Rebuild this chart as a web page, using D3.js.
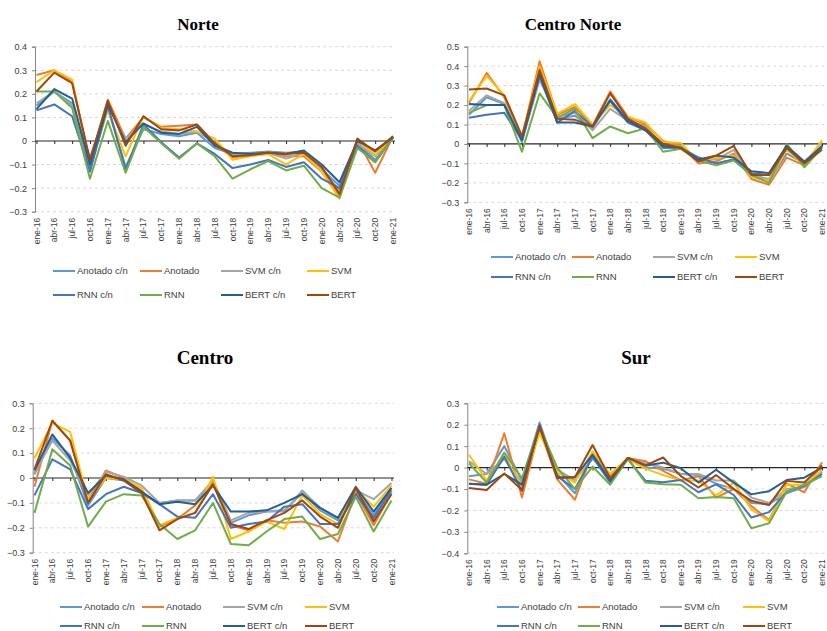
<!DOCTYPE html>
<html><head><meta charset="utf-8">
<script src="https://cdn.jsdelivr.net/npm/d3@7"></script>
<style>
html,body{margin:0;padding:0;background:#fff;}
svg{display:block;}
</style>
</head><body>
<svg id="chart" width="827" height="631"></svg>
<script>
// ---------- DATA ----------
const categories = ["ene-16","abr-16","jul-16","oct-16","ene-17","abr-17","jul-17","oct-17","ene-18","abr-18","jul-18","oct-18","ene-19","abr-19","jul-19","oct-19","ene-20","abr-20","jul-20","oct-20","ene-21"];
const seriesNames = ["Anotado c/n","Anotado","SVM c/n","SVM","RNN c/n","RNN","BERT c/n","BERT"];
const panelTitles = ["Norte","Centro Norte","Centro","Sur"];
const norteTicks = [0.4,0.3,0.2,0.1,0,-0.1,-0.2,-0.3];
const centroNorteTicks = [0.5,0.4,0.3,0.2,0.1,0,-0.1,-0.2,-0.3];
const centroTicks = [0.3,0.2,0.1,0,-0.1,-0.2,-0.3];
const surTicks = [0.3,0.2,0.1,0,-0.1,-0.2,-0.3,-0.4];

// rows follow seriesNames order
const norteValues = [
  [0.15,0.21,0.16,-0.12,0.14,-0.11,0.05,0.03,0.02,0.035,-0.03,-0.055,-0.05,-0.045,-0.05,-0.045,-0.12,-0.19,-0.01,-0.08,0.015],
  [0.28,0.30,0.25,-0.09,0.175,0.01,0.10,0.06,0.065,0.07,-0.01,-0.07,-0.06,-0.05,-0.065,-0.065,-0.13,-0.235,0.005,-0.135,0.02],
  [0.16,0.21,0.15,-0.07,0.15,0.01,0.07,0.04,0.03,0.04,-0.005,-0.06,-0.06,-0.05,-0.075,-0.05,-0.12,-0.21,-0.01,-0.065,0.015],
  [0.25,0.30,0.26,-0.10,0.13,-0.065,0.105,0.055,0.05,0.04,0.01,-0.08,-0.065,-0.055,-0.10,-0.055,-0.13,-0.245,0.005,-0.06,0.02],
  [0.13,0.155,0.105,-0.13,0.15,-0.12,0.07,-0.005,-0.07,-0.01,-0.055,-0.115,-0.10,-0.08,-0.11,-0.09,-0.16,-0.20,-0.02,-0.09,0.015],
  [0.21,0.21,0.14,-0.16,0.085,-0.135,0.06,-0.01,-0.075,-0.01,-0.065,-0.16,-0.12,-0.085,-0.125,-0.105,-0.20,-0.24,-0.03,-0.09,0.015],
  [0.135,0.22,0.18,-0.10,0.155,-0.005,0.075,0.035,0.03,0.06,-0.02,-0.05,-0.055,-0.05,-0.055,-0.04,-0.10,-0.175,0.0,-0.04,0.015],
  [0.21,0.29,0.245,-0.08,0.17,-0.02,0.105,0.05,0.045,0.07,-0.01,-0.065,-0.06,-0.05,-0.055,-0.05,-0.11,-0.225,0.01,-0.045,0.02]
];
const centroNorteValues = [
  [0.15,0.24,0.205,0.01,0.34,0.13,0.145,0.08,0.23,0.12,0.085,-0.02,-0.02,-0.07,-0.10,-0.08,-0.16,-0.19,-0.05,-0.10,-0.01],
  [0.21,0.365,0.24,0.03,0.425,0.15,0.19,0.095,0.27,0.14,0.10,0.015,-0.01,-0.10,-0.09,-0.05,-0.18,-0.21,-0.07,-0.11,-0.02],
  [0.17,0.25,0.21,0.02,0.33,0.14,0.16,0.07,0.18,0.12,0.09,-0.01,-0.01,-0.08,-0.08,-0.03,-0.16,-0.18,-0.03,-0.10,0.01],
  [0.22,0.35,0.25,0.035,0.40,0.155,0.205,0.10,0.20,0.14,0.11,0.01,0.005,-0.09,-0.07,-0.06,-0.17,-0.19,-0.03,-0.11,0.02],
  [0.135,0.15,0.16,0.02,0.35,0.11,0.17,0.09,0.22,0.11,0.07,-0.02,-0.02,-0.07,-0.10,-0.08,-0.15,-0.16,-0.02,-0.10,-0.01],
  [0.16,0.20,0.20,-0.04,0.26,0.135,0.18,0.03,0.09,0.055,0.08,-0.04,-0.025,-0.085,-0.11,-0.085,-0.16,-0.20,0.0,-0.12,-0.02],
  [0.205,0.20,0.20,0.02,0.36,0.11,0.11,0.09,0.225,0.12,0.07,-0.01,-0.02,-0.08,-0.06,-0.07,-0.14,-0.15,-0.01,-0.09,-0.015],
  [0.28,0.285,0.25,0.04,0.38,0.13,0.125,0.09,0.26,0.13,0.08,0.0,-0.02,-0.09,-0.06,-0.01,-0.16,-0.16,-0.02,-0.10,-0.03]
];
const centroValues = [
  [0.015,0.16,0.09,-0.11,0.0,-0.01,-0.06,-0.10,-0.09,-0.09,-0.02,-0.18,-0.15,-0.135,-0.13,-0.06,-0.13,-0.17,-0.05,-0.15,-0.04],
  [-0.035,0.23,0.15,-0.09,0.03,0.0,-0.05,-0.195,-0.165,-0.11,-0.02,-0.19,-0.21,-0.17,-0.18,-0.175,-0.195,-0.255,-0.06,-0.19,-0.06],
  [0.02,0.15,0.07,-0.07,0.025,0.005,-0.03,-0.10,-0.09,-0.09,-0.01,-0.17,-0.14,-0.135,-0.135,-0.05,-0.12,-0.16,-0.05,-0.085,-0.02],
  [0.08,0.22,0.185,-0.09,0.0,-0.005,-0.04,-0.19,-0.16,-0.14,0.005,-0.245,-0.215,-0.175,-0.205,-0.07,-0.145,-0.185,-0.045,-0.115,-0.03],
  [-0.07,0.075,0.035,-0.125,-0.065,-0.035,-0.06,-0.105,-0.155,-0.16,-0.065,-0.20,-0.185,-0.175,-0.115,-0.105,-0.185,-0.185,-0.065,-0.16,-0.05],
  [-0.14,0.115,0.05,-0.195,-0.095,-0.065,-0.07,-0.185,-0.245,-0.21,-0.10,-0.265,-0.27,-0.215,-0.165,-0.155,-0.245,-0.225,-0.075,-0.215,-0.09],
  [0.03,0.175,0.08,-0.06,0.01,-0.005,-0.055,-0.105,-0.095,-0.105,-0.03,-0.135,-0.135,-0.13,-0.10,-0.065,-0.12,-0.16,-0.035,-0.135,-0.04],
  [0.035,0.23,0.15,-0.10,0.015,-0.01,-0.06,-0.21,-0.165,-0.14,-0.025,-0.185,-0.205,-0.17,-0.14,-0.09,-0.155,-0.20,-0.04,-0.175,-0.065]
];
const surValues = [
  [-0.04,-0.03,0.10,-0.06,0.21,-0.03,-0.12,0.06,-0.04,0.045,0.0,-0.005,-0.03,-0.035,-0.075,-0.10,-0.165,-0.17,-0.12,-0.09,-0.02],
  [-0.055,-0.075,0.16,-0.14,0.18,-0.055,-0.15,0.07,-0.04,0.045,0.03,-0.015,-0.06,-0.04,-0.14,-0.10,-0.18,-0.245,-0.075,-0.115,0.025],
  [0.03,-0.03,0.04,-0.07,0.17,-0.01,-0.06,0.04,-0.03,0.04,0.02,0.0,-0.03,-0.03,-0.06,-0.06,-0.14,-0.165,-0.10,-0.09,-0.02],
  [0.06,-0.06,0.06,-0.09,0.16,-0.02,-0.07,0.075,-0.03,0.04,-0.005,-0.035,-0.06,-0.06,-0.13,-0.07,-0.195,-0.25,-0.08,-0.08,-0.01],
  [-0.075,-0.08,0.05,-0.11,0.20,-0.04,-0.10,0.05,-0.07,0.04,-0.062,-0.068,-0.058,-0.115,-0.078,-0.128,-0.233,-0.208,-0.112,-0.085,-0.03],
  [0.02,-0.07,0.07,-0.05,0.19,0.0,-0.10,0.005,-0.08,0.04,-0.07,-0.078,-0.08,-0.143,-0.137,-0.143,-0.283,-0.26,-0.112,-0.08,-0.04],
  [-0.075,-0.08,-0.03,-0.08,0.19,-0.045,-0.045,0.06,-0.06,0.045,0.01,0.023,-0.003,-0.07,-0.01,-0.07,-0.125,-0.11,-0.058,-0.047,0.0],
  [-0.095,-0.105,-0.027,-0.105,0.195,-0.05,-0.045,0.105,-0.05,0.045,0.01,0.047,-0.04,-0.093,-0.035,-0.10,-0.155,-0.175,-0.062,-0.07,0.01]
];

// ---------- STYLE / LAYOUT ----------
const seriesColors = ["#5B9BD5","#ED7D31","#A5A5A5","#FFC000","#4472C4","#70AD47","#255E91","#9E480E"];

const panels = [
  {title: panelTitles[0], values: norteValues, ticks: norteTicks,
   axisX: 35, x0: 36.5, x1: 393, yTop: 46.7, yBot: 211.7, gridEnd: 395,
   titleX: 198, titleY: 30, titleSize: 17,
   legCols: [53,140,221,307], legRows: [271,295]},
  {title: panelTitles[1], values: centroNorteValues, ticks: centroNorteTicks,
   axisX: 467.3, x0: 469, x1: 822, yTop: 46.7, yBot: 202.3, gridEnd: 827,
   titleX: 573, titleY: 30, titleSize: 17,
   legCols: [491,572,653,735], legRows: [257,277]},
  {title: panelTitles[2], values: centroValues, ticks: centroTicks,
   axisX: 32.7, x0: 34.5, x1: 391.5, yTop: 403.3, yBot: 552.7, gridEnd: 394,
   titleX: 205, titleY: 364, titleSize: 19,
   legCols: [60,142,223,305], legRows: [607,626]},
  {title: panelTitles[3], values: surValues, ticks: surTicks,
   axisX: 467.3, x0: 469, x1: 822, yTop: 403.3, yBot: 553.3, gridEnd: 827,
   titleX: 636, titleY: 364, titleSize: 19,
   legCols: [497,578,660,743], legRows: [607,626]}
];

const svg = d3.select("#chart");
const textColor = "#404040";
const fmt = v => v === 0 ? "0" : d3.format(".1f")(v);

panels.forEach(p => {
  const g = svg.append("g");
  const x = d3.scalePoint().domain(categories).range([p.x0, p.x1]);
  const y = d3.scaleLinear().domain([d3.min(p.ticks), d3.max(p.ticks)]).range([p.yBot, p.yTop]);

  // title
  g.append("text").attr("x", p.titleX).attr("y", p.titleY)
    .attr("text-anchor","middle")
    .attr("font-family","'Liberation Serif','Times New Roman',serif")
    .attr("font-weight","bold").attr("font-size", p.titleSize)
    .attr("fill","#000").text(p.title);

  // gridlines
  g.append("g").selectAll("line").data(p.ticks.filter(t => t !== 0)).join("line")
    .attr("x1", p.axisX).attr("x2", p.gridEnd)
    .attr("y1", d => y(d)).attr("y2", d => y(d))
    .attr("stroke","#D9D9D9").attr("stroke-width",1)
    .attr("stroke-dasharray","3,3");

  // y axis
  const yAxis = g.append("g").attr("transform", `translate(${p.axisX},0)`)
    .call(d3.axisLeft(y).tickValues(p.ticks).tickFormat(fmt).tickSize(3).tickPadding(5));
  yAxis.select(".domain").attr("stroke","#868686").attr("stroke-width",1);
  yAxis.selectAll(".tick line").attr("stroke","#868686");
  yAxis.selectAll(".tick text").attr("font-family","'Liberation Sans',Arial,sans-serif")
    .attr("font-size",9).attr("fill",textColor);

  // zero axis with category ticks
  const xAxis = g.append("g").attr("transform", `translate(0,${y(0)})`)
    .call(d3.axisBottom(x).tickSize(3).tickFormat(""));
  xAxis.select(".domain").attr("d", `M${p.axisX},0H${p.gridEnd}`).attr("stroke","#262626").attr("stroke-width",1.2);
  xAxis.selectAll(".tick line").attr("stroke","#262626");

  // category labels (bottom, rotated)
  g.append("g").selectAll("text").data(categories).join("text")
    .attr("transform", d => `translate(${x(d)+3},${p.yBot + 6}) rotate(-90)`)
    .attr("text-anchor","end")
    .attr("font-family","'Liberation Sans',Arial,sans-serif")
    .attr("font-size",8.5).attr("fill",textColor)
    .text(d => d);

  // series lines
  const line = d3.line().x((d,i) => x(categories[i])).y(d => y(d));
  g.append("g").selectAll("path").data(p.values).join("path")
    .attr("d", d => line(d))
    .attr("fill","none")
    .attr("stroke", (d,i) => seriesColors[i])
    .attr("stroke-width",2)
    .attr("stroke-linejoin","round");

  // legend
  const leg = g.append("g");
  seriesNames.forEach((name, i) => {
    const cx = p.legCols[i % 4], cy = p.legRows[Math.floor(i / 4)];
    leg.append("line").attr("x1", cx).attr("x2", cx + 22).attr("y1", cy).attr("y2", cy)
      .attr("stroke", seriesColors[i]).attr("stroke-width", 2);
    leg.append("text").attr("x", cx + 24).attr("y", cy + 3.3)
      .attr("font-family","'Liberation Sans',Arial,sans-serif")
      .attr("font-size",9.5).attr("fill",textColor).text(name);
  });
});
</script>
</body></html>
